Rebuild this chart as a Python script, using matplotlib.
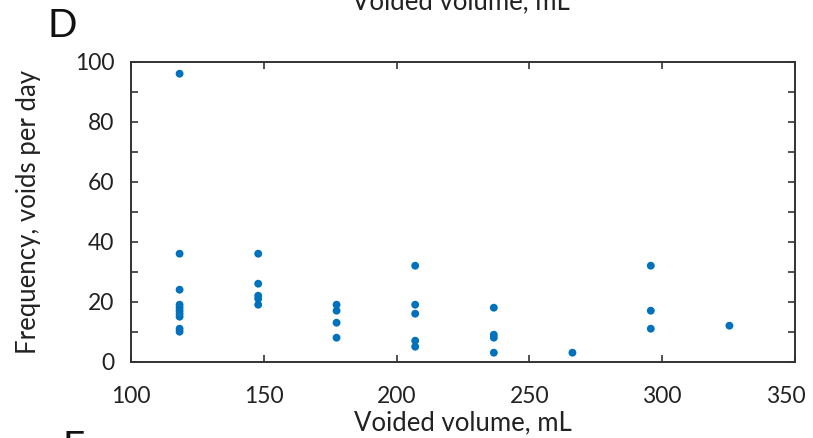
import numpy as np
import matplotlib.pyplot as plt
from matplotlib.transforms import ScaledTranslation

plt.rcParams['font.family'] = ['Lato', 'DejaVu Sans']

# voided volume columns (ounce steps, in mL) and the frequencies
vol_118 = [96, 36, 24, 19, 18, 17, 16, 15, 11, 10]
vol_148 = [36, 26, 22, 21, 19]
vol_177 = [19, 17, 13, 8]
vol_207 = [32, 19, 16, 7, 5]
vol_237 = [18, 9, 8, 3]
vol_266 = [3]
vol_296 = [32, 17, 11]
vol_325 = [12]

volumes = [118.3, 147.9, 177.4, 207.0, 236.6, 266.2, 295.7, 325.3]
freqs = [vol_118, vol_148, vol_177, vol_207, vol_237, vol_266, vol_296, vol_325]

x = np.concatenate([[v] * len(f) for v, f in zip(volumes, freqs)])
y = np.concatenate(freqs)

fig = plt.figure(figsize=(8.13, 4.38), dpi=100)
ax = fig.add_axes([0.1611, 0.1742, 0.8168, 0.6849])

ax.scatter(x, y, s=32, color="#0072BD", edgecolors="none", zorder=3)

ax.set_xlim(100, 350)
ax.set_ylim(0, 100)
ax.set_xticks([100, 150, 200, 250, 300, 350])
ax.set_yticks(np.arange(0, 101, 20))
ax.set_yticks(np.arange(0, 101, 10), minor=True)

for s in ax.spines.values():
    s.set_color("#333333")
    s.set_linewidth(1.4)

ax.tick_params(which="both", direction="in", top=True, right=True,
               color="#333333", width=1.2, labelsize=16.5, labelcolor="#222222")
ax.tick_params(which="major", length=5)
ax.tick_params(axis="x", which="major", pad=17.5)
ax.tick_params(axis="y", which="major", pad=12)
ax.tick_params(which="minor", length=5)

# last x label sits a little inside the edge, as in the source figure
last = ax.get_xticklabels()[-1]
last.set_transform(last.get_transform() + ScaledTranslation(-9 / 100, 0, fig.dpi_scale_trans))

ax.set_xlabel("Voided volume, mL", fontsize=18.5, color="#222222", labelpad=2.5)
ax.set_ylabel("Frequency, voids per day", fontsize=18.5, color="#222222")
ax.yaxis.set_label_coords(-0.136, 0.5)

# panel letter and neighbouring panel remnants
fig.text(0.058, 0.94, "D", fontsize=28, ha="left", va="center", color="#111111")
fig.text(0.567, 0.997, "Voided volume, mL", fontsize=18.5, ha="center", va="center",
         color="#222222")
fig.text(0.077, 0.018, "E", fontsize=28, ha="left", va="top", color="#111111")

fig.savefig("out.png", dpi=100)
